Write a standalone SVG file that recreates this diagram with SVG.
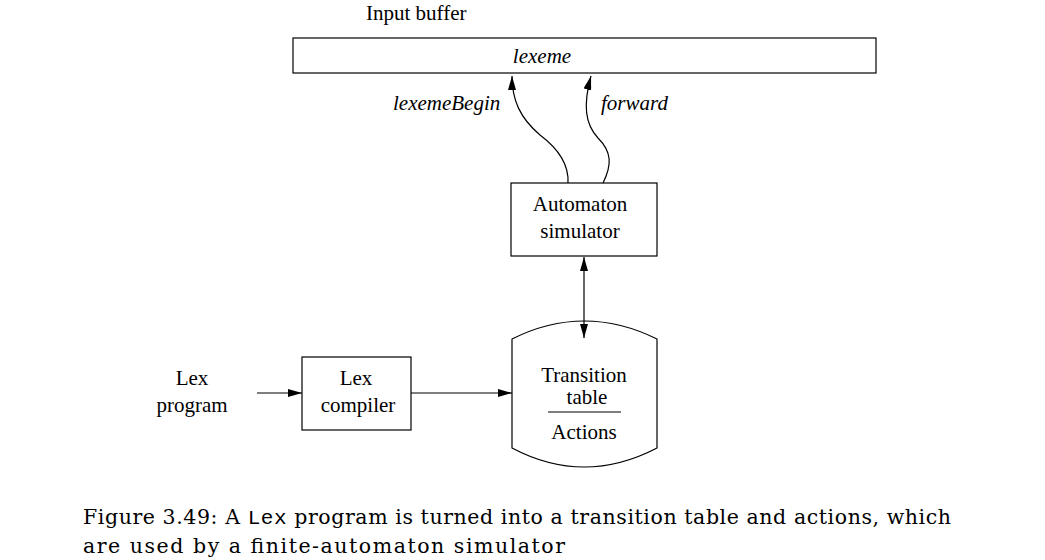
<svg xmlns="http://www.w3.org/2000/svg" width="1045" height="560" viewBox="0 0 1045 560">
<defs>
<style>
.t{font-family:"Liberation Serif","Times New Roman",serif;font-size:21px;fill:#000}
.i{font-style:italic}
.m{font-family:"Liberation Mono","Courier New",monospace;font-size:21px}
.cap{font-family:"DejaVu Serif","Liberation Serif",serif;font-size:20.5px;fill:#000}
.s{fill:none;stroke:#000;stroke-width:1.2}
.b{fill:#fff;stroke:#000;stroke-width:1.2}
</style>
<marker id="ah" viewBox="0 0 14 8" refX="14" refY="4" markerWidth="14" markerHeight="8" markerUnits="userSpaceOnUse" orient="auto-start-reverse">
<path d="M0,0 L14,4 L0,8 Z" fill="#000"/>
</marker>
</defs>
<rect width="1045" height="560" fill="#fff"/>
<g id="input-buffer">
<text class="t" x="366" y="20">Input buffer</text>
<rect class="b" x="293" y="38" width="583" height="35"/>
<text class="t i" x="542" y="63" text-anchor="middle">lexeme</text>
</g>
<g id="automaton">
<rect class="b" x="511" y="183" width="146" height="73"/>
<text class="t" x="580" y="211" text-anchor="middle">Automaton</text>
<text class="t" x="580" y="238" text-anchor="middle">simulator</text>
</g>
<g id="table">
<path class="b" d="M512,339 Q584,303 657,339 L657,448 Q584,486 512,448 Z"/>
<text class="t" x="584" y="382" text-anchor="middle">Transition</text>
<text class="t" x="587" y="404" text-anchor="middle">table</text>
<line class="s" x1="548" y1="412" x2="621" y2="412"/>
<text class="t" x="584" y="439" text-anchor="middle">Actions</text>
</g>
<g id="lex-compiler">
<rect class="b" x="302" y="357" width="109" height="73"/>
<text class="t" x="356" y="385" text-anchor="middle">Lex</text>
<text class="t" x="358" y="412" text-anchor="middle">compiler</text>
</g>
<g id="lex-program">
<text class="t" x="192" y="385" text-anchor="middle">Lex</text>
<text class="t" x="192" y="412" text-anchor="middle">program</text>
</g>
<g id="connectors">
<path class="s" d="M568,183 C569,165 560,150 540,135 C520,118 512,100 512,76" marker-end="url(#ah)"/>
<path class="s" d="M603,183 C612,165 612,152 598,138 C585,124 583,105 591,76" marker-end="url(#ah)"/>
<line class="s" x1="584" y1="257" x2="584" y2="338" marker-start="url(#ah)" marker-end="url(#ah)"/>
<line class="s" x1="257" y1="393" x2="302" y2="393" marker-end="url(#ah)"/>
<line class="s" x1="411" y1="393" x2="512" y2="393" marker-end="url(#ah)"/>
</g>
<g id="labels">
<text class="t i" x="393" y="110">lexemeBegin</text>
<text class="t i" x="601" y="110">forward</text>
</g>
<g id="caption">
<text class="cap" x="83" y="524" textLength="868" lengthAdjust="spacing">Figure 3.49: A <tspan class="m">Lex</tspan> program is turned into a transition table and actions, which</text>
<text class="cap" x="83" y="553" textLength="482" lengthAdjust="spacing">are used by a finite-automaton simulator</text>
</g>
</svg>
